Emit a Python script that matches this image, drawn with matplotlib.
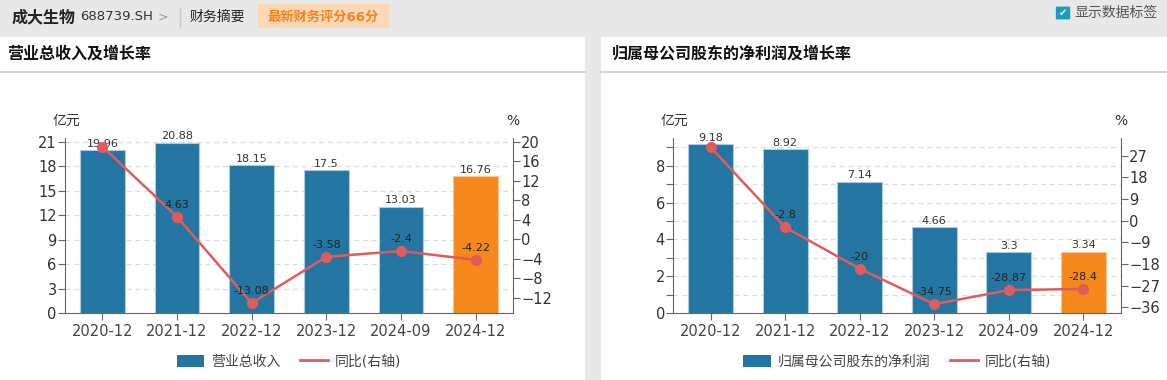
import numpy as np
import matplotlib.pyplot as plt
from matplotlib.patches import Rectangle, FancyBboxPatch, Patch
from matplotlib.lines import Line2D

plt.rcParams['font.family'] = ['DejaVu Sans', 'Noto Sans CJK SC']

periods = ['2020-12', '2021-12', '2022-12', '2023-12', '2024-09', '2024-12']
revenue = [19.96, 20.88, 18.15, 17.5, 13.03, 16.76]
revenue_yoy = [19.0, 4.63, -13.08, -3.58, -2.4, -4.22]
profit = [9.18, 8.92, 7.14, 4.66, 3.3, 3.34]
profit_yoy = [30.5, -2.8, -20, -34.75, -28.87, -28.4]

W, H = 1167, 380
BLUE = '#2475a2'
ORANGE = '#f5891b'
RED = '#e05c5c'
GRAY_BG = '#e8e8e8'

fig = plt.figure(figsize=(W / 100, H / 100), dpi=100, facecolor=GRAY_BG)

def px(x0, y0, x1, y1):
    # pixel box (top-left origin) -> figure fraction rect
    return [x0 / W, 1 - y1 / H, (x1 - x0) / W, (y1 - y0) / H]

def fx(x):
    return x / W

def fy(y):
    return 1 - y / H

# panels (behind the axes)
for x0, x1 in [(0, 585), (601, 1167)]:
    fig.add_artist(Rectangle((fx(x0), 0), fx(x1) - fx(x0), fy(37), transform=fig.transFigure,
                             fc='white', ec='none', zorder=-5))
    fig.add_artist(Line2D([fx(x0), fx(x1)], [fy(72), fy(72)], color='#cccccc', lw=1.2, zorder=-4))

# header
fig.text(fx(12), fy(17), '成大生物', fontsize=11.5, fontweight='bold', va='center', color='#222')
fig.text(fx(80), fy(17), '688739.SH', fontsize=9.5, va='center', color='#333')
fig.text(fx(158), fy(17), '>', fontsize=9, va='center', color='#999')
fig.add_artist(Line2D([fx(180), fx(180)], [fy(8), fy(27)], color='#c8c8c8', lw=1))
fig.text(fx(190), fy(17), '财务摘要', fontsize=10, va='center', color='#222')
fig.add_artist(Rectangle((fx(258), fy(28)), fx(389) - fx(258), fy(4) - fy(28),
                         transform=fig.transFigure, fc='#fdd8b5', ec='none', zorder=-4))
fig.text(fx(323), fy(17), '最新财务评分66分', fontsize=9.5, fontweight='bold', va='center', ha='center', color='#f5821f')
fig.add_artist(FancyBboxPatch((fx(1057), fy(19)), fx(12), fy(7) - fy(19),
                              boxstyle='round,pad=0.001', transform=fig.transFigure, fc='#1a9bc0', ec='none'))
fig.text(fx(1063), fy(13), '✔', fontsize=7, ha='center', va='center', color='white')
fig.text(fx(1074), fy(13), '显示数据标签', fontsize=10, va='center', color='#555')


def draw_panel(x0, x1, title, title_x, vals, yoy, bar_name,
               lmax, lticks, llabels, rlim, rticks):
    ax = fig.add_axes(px(x0, 138.3, x1, 313))
    ax.set_facecolor('none')
    xs = np.arange(len(periods))
    colors = [BLUE] * (len(vals) - 1) + [ORANGE]
    edges = ['#a6cde3'] * (len(vals) - 1) + ['#fbc690']
    ax.bar(xs, vals, width=0.6, color=colors, edgecolor=edges, linewidth=0.8, zorder=2)
    for x, v in zip(xs, vals):
        ax.annotate(f'{v:g}', (x, v), xytext=(0, 1), textcoords='offset points',
                    ha='center', va='bottom', fontsize=8, color='#333', zorder=5)
    ax.set_xlim(-0.5, len(periods) - 0.5)
    ax.set_ylim(0, lmax)
    ax.set_yticks(lticks)
    ax.set_yticklabels(llabels)
    ax.set_xticks(xs)
    ax.set_xticklabels(periods)
    for t in lticks[1:]:
        ax.axhline(t, color='#dddddd', lw=0.9, ls=(0, (4, 3)), zorder=1)
    for s in ['top', 'right']:
        ax.spines[s].set_visible(False)
    for s in ['left', 'bottom']:
        ax.spines[s].set_color('#666666')
    ax.tick_params(axis='y', length=5, color='#666666', labelsize=10.5, labelcolor='#333', pad=1)
    ax.tick_params(axis='x', length=5, color='#666666', labelsize=10.5, labelcolor='#444', pad=3)

    ax2 = ax.twinx()
    ax2.plot(xs, yoy, color=RED, lw=1.8, marker='o', markersize=7, zorder=4)
    for x, v in list(zip(xs, yoy))[1:]:
        ax2.annotate(f'{v:g}', (x, v), xytext=(0, 5), textcoords='offset points',
                     ha='center', va='bottom', fontsize=8, color='#222', zorder=5)
    ax2.set_ylim(*rlim)
    ax2.set_yticks(rticks)
    for s in ['top', 'left', 'bottom']:
        ax2.spines[s].set_visible(False)
    ax2.spines['right'].set_color('#666666')
    ax2.tick_params(axis='y', length=5, color='#666666', labelsize=10.5, labelcolor='#333', pad=1)

    fig.text(fx(x0 + 1), fy(121), '亿元', fontsize=10, ha='center', va='center', color='#333')
    fig.text(fx(x1), fy(121), '%', fontsize=10, ha='center', va='center', color='#333')
    fig.text(fx(title_x), fy(54), title, fontsize=11.5, fontweight='bold', va='center', color='#111')

    handles = [Patch(facecolor=BLUE, edgecolor='none'), Line2D([], [], color=RED, lw=2)]
    ax.legend(handles, [bar_name, '同比(右轴)'], loc='center', ncol=2, frameon=False,
              bbox_to_anchor=(0.5, -0.28), fontsize=10, handlelength=2.0, handleheight=1.0,
              columnspacing=1.4, handletextpad=0.5, labelcolor='#444')


draw_panel(65, 513, '营业总收入及增长率', 7, revenue, revenue_yoy, '营业总收入',
           21.42, list(range(0, 22, 3)), [str(v) for v in range(0, 22, 3)],
           (-15.1, 20.7), list(range(-12, 21, 4)))

draw_panel(673.3, 1120.7, '归属母公司股东的净利润及增长率', 612, profit, profit_yoy, '归属母公司股东的净利润',
           9.5, list(range(0, 10)), [str(v) if v % 2 == 0 else '' for v in range(0, 10)],
           (-38.4, 34.2), list(range(-36, 28, 9)))

fig.savefig('out.png', dpi=100, facecolor=GRAY_BG)
